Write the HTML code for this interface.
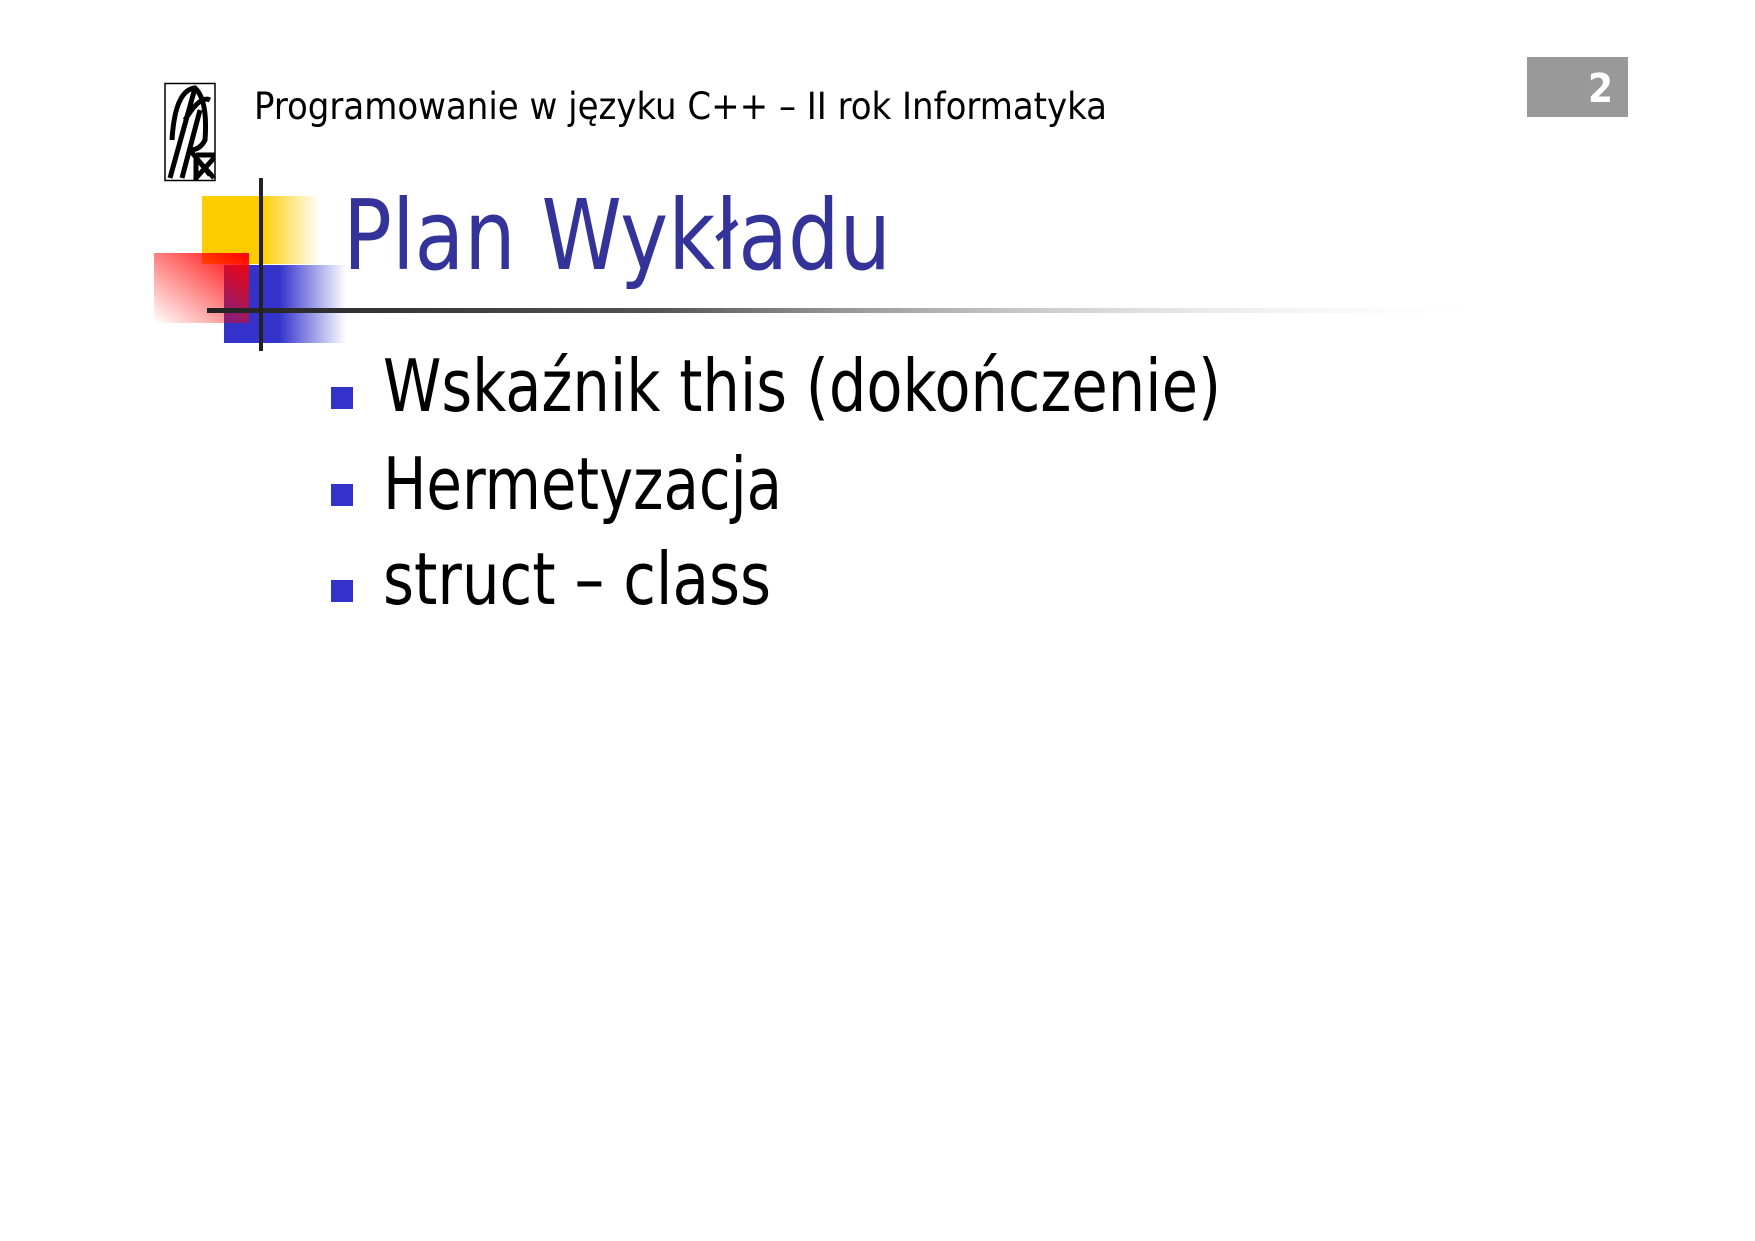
<!DOCTYPE html>
<html><head><meta charset="utf-8"><style>
html,body{margin:0;padding:0;background:#fff;}
svg{display:block;}
text{font-family:"DejaVu Sans Condensed","Liberation Sans",sans-serif;}
</style></head><body>
<svg width="1755" height="1241" viewBox="0 0 1755 1241" xmlns="http://www.w3.org/2000/svg">
<defs>
<linearGradient id="gy" x1="0" x2="1" y1="0" y2="0"><stop offset="0.5" stop-color="#ffcc00"/><stop offset="1" stop-color="#ffcc00" stop-opacity="0"/></linearGradient>
<linearGradient id="gb" x1="0" x2="1" y1="0" y2="0"><stop offset="0.45" stop-color="#3333cc"/><stop offset="1" stop-color="#3333cc" stop-opacity="0"/></linearGradient>
<linearGradient id="gr" x1="1" y1="0" x2="0" y2="1"><stop offset="0" stop-color="#ff0000"/><stop offset="1" stop-color="#ff0000" stop-opacity="0"/></linearGradient>
<linearGradient id="gl" x1="0" x2="1" y1="0" y2="0"><stop offset="0" stop-color="#222"/><stop offset="0.35" stop-color="#555"/><stop offset="1" stop-color="#fff" stop-opacity="0"/></linearGradient>
</defs>
<rect x="165" y="83.5" width="50" height="97" fill="#fff" stroke="#000" stroke-width="1.5"/>
<path d="M170 178 L195 88 M182 178 L200 110 M172 140 Q175 90 195 88 Q208 100 205 140 Q200 150 190 150 M190 150 L210 175 M185 120 Q200 95 210 100 M196 155 H215 M196 155 V180 M196 158 L214 178 M214 158 L196 178" fill="none" stroke="#000" stroke-width="5"/>
<text x="254" y="119" font-size="37" fill="#000" textLength="853" lengthAdjust="spacingAndGlyphs">Programowanie w języku C++ – II rok Informatyka</text>
<rect x="1527" y="57" width="101" height="60" fill="#999"/>
<text x="1613" y="102" font-size="40" font-weight="bold" fill="#fff" text-anchor="end">2</text>
<rect x="202" y="196" width="118" height="68" fill="url(#gy)"/>
<rect x="224" y="265" width="122" height="78" fill="url(#gb)"/>
<rect x="154" y="253" width="95" height="70" fill="url(#gr)"/>
<rect x="207" y="308" width="1300" height="5" fill="url(#gl)"/>
<rect x="259" y="178" width="4" height="173" fill="#222"/>
<text x="343" y="269" font-size="97" fill="#333399" textLength="548" lengthAdjust="spacingAndGlyphs">Plan Wykładu</text>
<rect x="331" y="387" width="22" height="22" fill="#3333cc"/>
<rect x="331" y="484" width="22" height="22" fill="#3333cc"/>
<rect x="331" y="580" width="22" height="22" fill="#3333cc"/>
<text x="383" y="411" font-size="72" fill="#000" textLength="838" lengthAdjust="spacingAndGlyphs">Wskaźnik this (dokończenie)</text>
<text x="383" y="509" font-size="72" fill="#000" textLength="399" lengthAdjust="spacingAndGlyphs">Hermetyzacja</text>
<text x="383" y="604" font-size="72" fill="#000" textLength="388" lengthAdjust="spacingAndGlyphs">struct – class</text>
</svg>
</body></html>
